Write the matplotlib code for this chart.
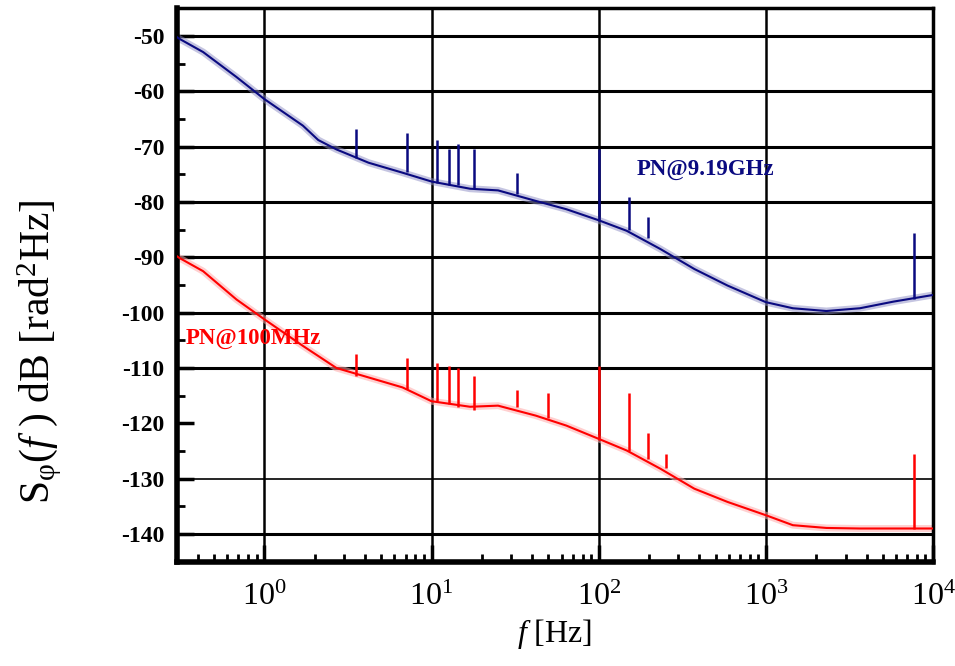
import matplotlib
matplotlib.use("Agg")
import matplotlib.pyplot as plt
from matplotlib.ticker import LogLocator, MultipleLocator, NullFormatter

plt.rcParams['font.family'] = ['Liberation Serif', 'DejaVu Serif']
plt.rcParams['mathtext.fontset'] = 'custom'
plt.rcParams['mathtext.rm'] = 'Liberation Serif'
plt.rcParams['mathtext.it'] = 'Liberation Serif:italic'
plt.rcParams['mathtext.bf'] = 'Liberation Serif:bold'
plt.rcParams['axes.unicode_minus'] = False

# ---- data ----
# trace of PN@9.19GHz (Hz, dB)
f_blue = [0.3, 0.31, 0.43, 0.68, 1.0, 1.7, 2.1, 2.7, 4.2, 6.7, 10, 17, 25, 42, 64,
          100, 147, 234, 373, 590, 1000, 1450, 2300, 3650, 5800, 10000]
pn_blue = [-50.2, -50.5, -52.9, -57.4, -61.4, -66.2, -68.8, -70.5, -72.9, -74.7, -76.3,
           -77.6, -77.9, -79.8, -81.3, -83.3, -85.2, -88.5, -92.1, -95.1, -98.1, -99.2,
           -99.7, -99.2, -98.0, -96.8]
# spurs on PN@9.19GHz: frequency, floor, peak
spur_f_blue = [3.54, 7.15, 10.8, 12.7, 14.3, 17.9, 32.4, 100, 151, 198, 7700]
spur_lo_blue = [-72.0, -74.5, -76.5, -77.0, -77.0, -77.5, -78.5, -83.5, -85.0, -86.5, -97.5]
spur_hi_blue = [-66.8, -67.6, -68.8, -70.4, -69.5, -70.4, -74.7, -70.4, -79.1, -82.7, -85.6]

# trace of PN@100MHz
f_red = [0.3, 0.31, 0.43, 0.68, 1.0, 1.7, 2.7, 4.2, 6.7, 10, 17, 25, 42, 64,
         100, 147, 234, 373, 590, 1000, 1450, 2300, 3650, 5800, 10000]
pn_red = [-89.8, -90.1, -92.5, -97.6, -101.2, -106.0, -110.0, -111.7, -113.5, -116.0,
          -117.0, -116.8, -118.6, -120.4, -122.8, -124.9, -128.2, -131.8, -134.2, -136.6,
          -138.4, -138.9, -139.0, -139.0, -139.0]
spur_f_red = [3.54, 7.15, 10.8, 12.7, 14.3, 17.9, 32.4, 49.8, 100, 151, 198, 252, 7700]
spur_lo_red = [-111.5, -113.8, -116.0, -116.5, -117.0, -117.5, -117.0, -119.0, -123.0,
               -125.0, -126.5, -128.0, -139.0]
spur_hi_red = [-107.4, -108.1, -109.1, -109.7, -110.0, -111.5, -113.9, -114.6, -109.7,
               -114.6, -121.8, -125.6, -125.5]

y_ticks = [-50, -60, -70, -80, -90, -100, -110, -120, -130, -140]
navy = '#0a0a80'
red = '#ff0000'

fig = plt.figure(figsize=(9.55, 6.66), dpi=100)
ax = fig.add_axes([0.1853, 0.1566, 0.977 - 0.1853, 0.9875 - 0.1566])
ax.set_xscale('log')
ax.set_xlim(0.3, 1e4)
ax.set_ylim(-145, -45)

# grid (the -120 line is absent and -130 is thin in the original)
for yv in y_ticks:
    if yv == -120:
        continue
    ax.axhline(yv, color='black', lw=1.2 if yv == -130 else 2.2, zorder=1)
for xv in [1, 10, 100, 1000]:
    ax.axvline(xv, color='black', lw=1.8, zorder=1)

# traces: light band suggests the noise, thin line on top
ax.plot(f_blue, pn_blue, color='#8c8cc4', lw=5, alpha=0.5, zorder=2)
ax.plot(f_blue, pn_blue, color=navy, lw=1.5, zorder=3)
ax.vlines(spur_f_blue, spur_lo_blue, spur_hi_blue, color=navy, lw=1.8, zorder=3)

ax.plot(f_red, pn_red, color='#ffaaaa', lw=5, alpha=0.55, zorder=2)
ax.plot(f_red, pn_red, color=red, lw=1.5, zorder=3)
ax.vlines(spur_f_red, spur_lo_red, spur_hi_red, color=red, lw=1.8, zorder=3)

ax.text(169, -74.2, 'PN@9.19GHz', color=navy, fontsize=16.5, fontweight='bold',
        ha='left', va='center')
ax.text(0.336, -104.6, 'PN@100MHz', color=red, fontsize=16.5, fontweight='bold',
        ha='left', va='center')

# axes styling
ax.set_yticks(y_ticks)
ax.yaxis.set_minor_locator(MultipleLocator(5))
ax.xaxis.set_major_locator(LogLocator(base=10, numticks=10))
ax.xaxis.set_minor_locator(LogLocator(base=10, subs=range(2, 10), numticks=20))
ax.xaxis.set_minor_formatter(NullFormatter())
ax.tick_params(axis='both', which='major', direction='in', length=12, width=2.5)
ax.tick_params(axis='both', which='minor', direction='in', length=6, width=2)
ax.tick_params(top=False, right=False, which='both')
ax.tick_params(axis='y', labelsize=17, pad=9)
ax.tick_params(axis='x', labelsize=23, pad=15)
for lab in ax.get_yticklabels():
    lab.set_fontweight('bold')

ax.spines['left'].set_linewidth(4)
ax.spines['bottom'].set_linewidth(4)
ax.spines['top'].set_linewidth(2.5)
ax.spines['right'].set_linewidth(2.5)

ax.set_xlabel(r'$f$ [Hz]', fontsize=23, labelpad=4)
fig.text(40 / 955, 1 - 352 / 666, r'S$_{\mathrm{φ}}$($f$ ) dB [rad$^2$Hz]', fontsize=30,
         rotation=90, ha='center', va='center')

fig.savefig('out.png', dpi=100)
